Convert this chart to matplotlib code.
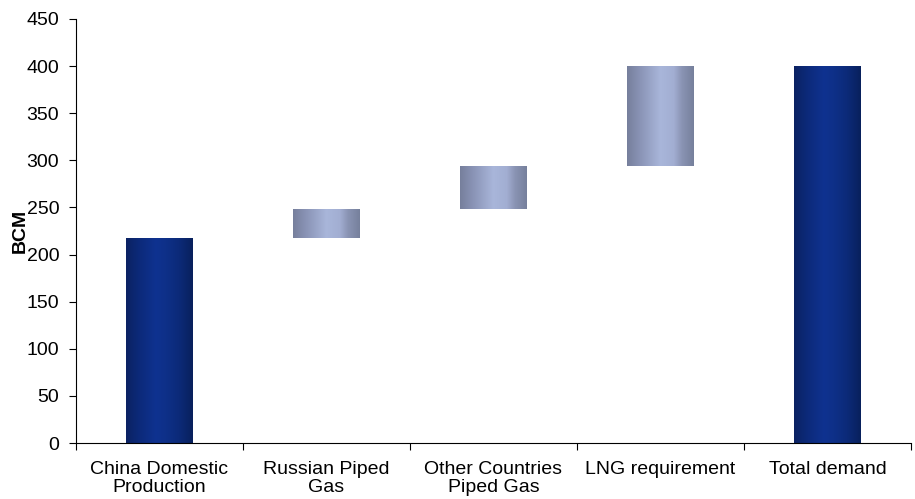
import numpy as np
import matplotlib
matplotlib.use("Agg")
import matplotlib.pyplot as plt
from matplotlib.colors import LinearSegmentedColormap

plt.rcParams['font.family'] = ['Liberation Sans', 'DejaVu Sans']

# China gas supply build-up to total demand (BCM)
categories = ["China Domestic\nProduction", "Russian Piped\nGas",
              "Other Countries\nPiped Gas", "LNG requirement", "Total demand"]
values = [218, 30, 46, 106, 400]
is_total = [True, False, False, False, True]
y_ticks = [0, 50, 100, 150, 200, 250, 300, 350, 400, 450]

# horizontal shading for the two bar styles
dark_cmap = LinearSegmentedColormap.from_list(
    "dark", [(0.0, "#0b2262"), (0.2, "#0c2a7a"), (0.45, "#0f3290"),
             (0.6, "#0e3088"), (0.8, "#0c2a78"), (1.0, "#08205c")])
light_cmap = LinearSegmentedColormap.from_list(
    "light", [(0.0, "#767f9c"), (0.2, "#8a94b6"), (0.5, "#a9b6da"),
              (0.7, "#a2aed2"), (0.82, "#8a94b4"), (1.0, "#76809c")])

fig = plt.figure(figsize=(9.15, 4.99), dpi=100)
ax = fig.add_axes([0.083, 0.112, 0.9125, 0.85])

# waterfall: increments float on the running total, totals start at zero
bottoms = []
running = 0
for v, tot in zip(values, is_total):
    if tot:
        bottoms.append(0)
        running = v
    else:
        bottoms.append(running)
        running += v

x = np.arange(len(categories))
width = 0.4
grad = np.linspace(0, 1, 256).reshape(1, -1)
bars = ax.bar(x, values, width, bottom=bottoms, color="none", edgecolor="none")
for rect, tot in zip(bars, is_total):
    x0, y0 = rect.get_x(), rect.get_y()
    w, h = rect.get_width(), rect.get_height()
    im = ax.imshow(grad, cmap=dark_cmap if tot else light_cmap,
                   extent=(x0, x0 + w, y0, y0 + h), aspect="auto",
                   interpolation="bilinear", zorder=2)
    im.set_clip_path(rect)

ax.set_xlim(-0.5, len(categories) - 0.5)
ax.set_ylim(0, 450)
ax.set_yticks(y_ticks)
ax.set_yticklabels([str(t) for t in y_ticks], fontsize=14)

# major ticks on category boundaries, labels on centres
ax.set_xticks(np.arange(-0.5, len(categories), 1.0))
ax.set_xticklabels([])
ax.set_xticks(x, minor=True)
ax.set_xticklabels(categories, minor=True, fontsize=14, linespacing=1.05)
ax.tick_params(axis="x", which="minor", length=0, pad=13)
ax.tick_params(axis="x", which="major", length=5, width=0.8, direction="out")
ax.tick_params(axis="y", length=5, width=0.8, direction="out", pad=7)

for s in ["top", "right"]:
    ax.spines[s].set_visible(False)
for s in ["left", "bottom"]:
    ax.spines[s].set_linewidth(0.8)

ax.set_ylabel("BCM", fontsize=14, fontweight="bold")
ax.yaxis.set_label_coords(-0.056, 0.5)

fig.savefig("out.png", dpi=100)
